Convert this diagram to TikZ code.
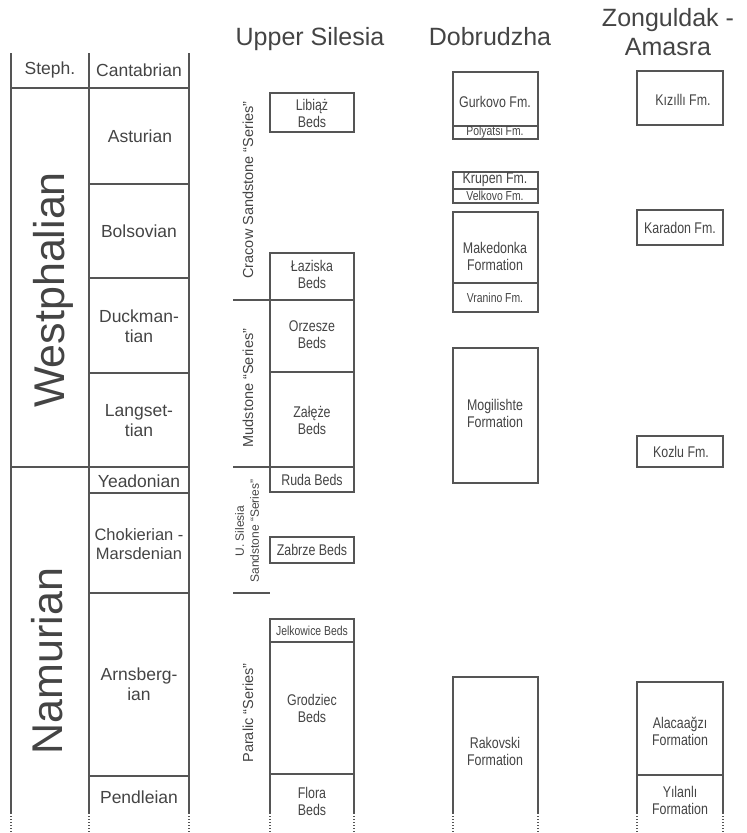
\documentclass[tikz,border=0pt]{standalone}
\usepackage{fontspec}
\setmainfont{Liberation Sans}
\newfontfamily\estrecha[FakeStretch=0.8]{Liberation Sans}
\definecolor{linea}{HTML}{555555}
\definecolor{letra}{HTML}{444444}
\tikzset{
  caja/.style={draw=linea, line width=1.8pt},
  corte/.style={draw=linea, line width=1.6pt, dash pattern=on 1.2pt off 1.8pt},
  piso/.style={text=letra, align=center, inner sep=0pt, font=\fontsize{17.5}{20}\selectfont},
  serie/.style={text=letra, align=center, inner sep=0pt, font=\fontsize{43}{43}\selectfont, rotate=90},
  titulo/.style={text=letra, align=center, inner sep=0pt, font=\fontsize{25}{29}\selectfont},
  grupo/.style={text=letra, align=center, inner sep=0pt, font=\fontsize{14.5}{16}\selectfont, rotate=90},
  capa/.style={text=letra, align=center, inner sep=0pt, font=\estrecha\fontsize{15.5}{17}\selectfont},
  capita/.style={text=letra, align=center, inner sep=0pt, font=\estrecha\fontsize{13}{14}\selectfont}
}
\begin{document}
\begin{tikzpicture}[x=1pt,y=-1pt]
% Fijamos el tamano del dibujo (como la imagen original, en pixeles).
\useasboundingbox (0,0) rectangle (747,833);

% Tabla de pisos a la izquierda.
\draw[caja] (11,53) -- (11,813);
\draw[caja] (89,53) -- (89,813);
\draw[caja] (189,53) -- (189,813);
\draw[caja] (11,88) -- (189,88);
\draw[caja] (11,467) -- (189,467);
\foreach \y in {184,278,373,493,593,776}
  \draw[caja] (89,\y) -- (189,\y);

% Las columnas siguen hacia abajo con puntos.
\foreach \x in {11,89,189,270,354,453,538,637,723}
  \draw[corte] (\x,813) -- (\x,833);

\node[piso] (steph) at (50,70) {Steph.};
\node[piso] (cantabrian) at (139,70) {Cantabrian};
\node[piso] (asturian) at (140,136) {Asturian};
\node[piso] (bolsovian) at (139,231) {Bolsovian};
\node[piso] (duckmantian) at (139,326) {Duckman-\\tian};
\node[piso] (langsettian) at (139,421) {Langset-\\tian};
\node[piso] (yeadonian) at (139,481) {Yeadonian};
\node[piso, font=\fontsize{16.5}{18.5}\selectfont] (marsdenian) at (139,544) {Chokierian -\\Marsdenian};
\node[piso] (arnsbergian) at (139,684) {Arnsberg-\\ian};
\node[piso] (pendleian) at (139,797) {Pendleian};

\node[serie] (westphalian) at (53,290) {Westphalian};
\node[serie] (namurian) at (47.5,661) {Namurian};

% Titulos de las columnas.
\node[titulo, anchor=base] (silesia) at (310,45) {Upper Silesia};
\node[titulo, anchor=base] (dobrudzha) at (490,45) {Dobrudzha};
\node[titulo] (zonguldak) at (668,32) {Zonguldak -\\Amasra};

% Upper Silesia: capas y "series".
\begin{scope}
\draw[caja] (270,93) rectangle (354,132);
\draw[caja] (270,253) rectangle (354,492);
\foreach \y in {300,372,467}
  \draw[caja] (270,\y) -- (354,\y);
\draw[caja] (270,537) rectangle (354,563);
\draw[caja] (270,813) -- (270,619) -- (354,619) -- (354,813);
\foreach \y in {642,774}
  \draw[caja] (270,\y) -- (354,\y);
% Rayitas que separan las "series".
\foreach \y in {300,467,593}
  \draw[caja] (233,\y) -- (270,\y);

\node[capa] (libiaz) at (312,113) {Libiąż\\Beds};
\node[capa] (laziska) at (312,274) {Łaziska\\Beds};
\node[capa] (orzesze) at (312,335) {Orzesze\\Beds};
\node[capa] (zaleze) at (312,420) {Załęże\\Beds};
\node[capa] (ruda) at (312,480) {Ruda Beds};
\node[capa] (zabrze) at (312,550) {Zabrze Beds};
\node[capita] (jelkowice) at (312,631) {Jelkowice Beds};
\node[capa] (grodziec) at (312,708) {Grodziec\\Beds};
\node[capa] (flora) at (312,801) {Flora\\Beds};

\node[grupo] (cracow) at (248,190) {Cracow Sandstone “Series”};
\node[grupo] (mudstone) at (248,388) {Mudstone “Series”};
\node[grupo, font=\fontsize{12}{15}\selectfont] (usilesia) at (247,531) {U. Silesia\\Sandstone “Series”};
\node[grupo] (paralic) at (248,713) {Paralic “Series”};
\end{scope}

% Dobrudzha.
\begin{scope}
\draw[caja] (453,72) rectangle (538,139);
\draw[caja] (453,126) -- (538,126);
\draw[caja] (453,172) rectangle (538,203);
\draw[caja] (453,189) -- (538,189);
\draw[caja] (453,212) rectangle (538,312);
\draw[caja] (453,283) -- (538,283);
\draw[caja] (453,348) rectangle (538,483);
\draw[caja] (453,813) -- (453,677) -- (538,677) -- (538,813);

\node[capa] (gurkovo) at (495,102) {Gurkovo Fm.};
\node[capita] (polyatsi) at (495,132.5) {Polyatsi Fm.};
\node[capa] (krupen) at (495,180) {Krupen Fm.};
\node[capita] (velkovo) at (495,196) {Velkovo Fm.};
\node[capa] (makedonka) at (495,256) {Makedonka\\Formation};
\node[capita] (vranino) at (495,297.5) {Vranino Fm.};
\node[capa] (mogilishte) at (495,413) {Mogilishte\\Formation};
\node[capa] (rakovski) at (495,751) {Rakovski\\Formation};
\end{scope}

% Zonguldak - Amasra.
\begin{scope}
\draw[caja] (637,71) rectangle (723,125);
\draw[caja] (637,210) rectangle (723,245);
\draw[caja] (637,436) rectangle (723,467);
\draw[caja] (637,813) -- (637,682) -- (723,682) -- (723,813);
\draw[caja] (637,775) -- (723,775);

\node[capa] (kizilli) at (683,100) {Kızıllı Fm.};
\node[capa] (karadon) at (680,228) {Karadon Fm.};
\node[capa] (kozlu) at (681,452) {Kozlu Fm.};
\node[capa] (alacaagzi) at (680,731) {Alacaağzı\\Formation};
\node[capa] (yilanli) at (680,800) {Yılanlı\\Formation};
\end{scope}
\end{tikzpicture}
\end{document}
